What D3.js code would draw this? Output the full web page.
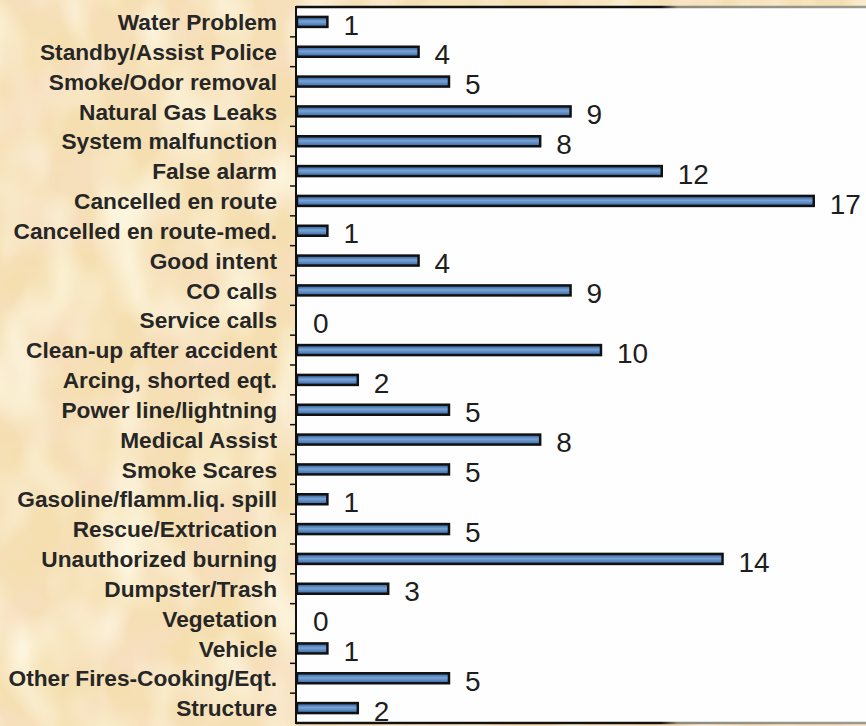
<!DOCTYPE html>
<html>
<head>
<meta charset="utf-8">
<script src="https://cdn.jsdelivr.net/npm/d3@7"></script>
<style>
  html, body { margin: 0; padding: 0; background: #f4dcab; }
  svg { display: block; }
</style>
</head>
<body>
<div class="chart"></div>
<script>
const categories = [
  "Water Problem", "Standby/Assist Police", "Smoke/Odor removal", "Natural Gas Leaks",
  "System malfunction", "False alarm", "Cancelled en route", "Cancelled en route-med.",
  "Good intent", "CO calls", "Service calls", "Clean-up after accident",
  "Arcing, shorted eqt.", "Power line/lightning", "Medical Assist", "Smoke Scares",
  "Gasoline/flamm.liq. spill", "Rescue/Extrication", "Unauthorized burning", "Dumpster/Trash",
  "Vegetation", "Vehicle", "Other Fires-Cooking/Eqt.", "Structure"
];
const counts = [1, 4, 5, 9, 8, 12, 17, 1, 4, 9, 0, 10, 2, 5, 8, 5, 1, 5, 14, 3, 0, 1, 5, 2];

const W = 866, H = 726;
const plot = { left: 296, top: 7, right: 866, bottom: 723 };

const data = categories.map((c, i) => ({ name: c, value: counts[i] }));

const svg = d3.select(".chart").append("svg")
  .attr("width", W)
  .attr("height", H);

const defs = svg.append("defs");

// parchment texture: orange blotches over a pale yellow base
const filt = defs.append("filter").attr("id", "paper")
  .attr("filterUnits", "userSpaceOnUse")
  .attr("x", 0).attr("y", 0).attr("width", W).attr("height", H);
filt.append("feTurbulence").attr("type", "fractalNoise")
  .attr("baseFrequency", "0.012 0.02").attr("numOctaves", 3).attr("seed", 7);
filt.append("feColorMatrix").attr("type", "matrix")
  .attr("values", "0 0 0 0 0.93  0 0 0 0 0.74  0 0 0 0 0.53  2.6 0 0 0 -1.05");

const filt2 = defs.append("filter").attr("id", "paper2")
  .attr("filterUnits", "userSpaceOnUse")
  .attr("x", 0).attr("y", 0).attr("width", W).attr("height", H);
filt2.append("feTurbulence").attr("type", "fractalNoise")
  .attr("baseFrequency", "0.02 0.012").attr("numOctaves", 2).attr("seed", 21);
filt2.append("feColorMatrix").attr("type", "matrix")
  .attr("values", "0 0 0 0 0.98  0 0 0 0 0.92  0 0 0 0 0.74  2.4 0 0 0 -1.0");

const barGrad = defs.append("linearGradient").attr("id", "barFill")
  .attr("x1", 0).attr("y1", 0).attr("x2", 0).attr("y2", 1);
barGrad.append("stop").attr("offset", "0%").attr("stop-color", "#2c5a99");
barGrad.append("stop").attr("offset", "45%").attr("stop-color", "#79a3d4");
barGrad.append("stop").attr("offset", "100%").attr("stop-color", "#3667a8");

const frameGrad = defs.append("linearGradient").attr("id", "frameLine")
  .attr("gradientUnits", "userSpaceOnUse")
  .attr("x1", plot.left).attr("x2", W).attr("y1", 0).attr("y2", 0);
frameGrad.append("stop").attr("offset", "0%").attr("stop-color", "#111");
frameGrad.append("stop").attr("offset", "64%").attr("stop-color", "#111");
frameGrad.append("stop").attr("offset", "67%").attr("stop-color", "#8a8a80");
frameGrad.append("stop").attr("offset", "100%").attr("stop-color", "#9a9a90");

svg.append("rect").attr("width", W).attr("height", H).attr("fill", "#f5dfb1");
svg.append("rect").attr("width", W).attr("height", H).attr("filter", "url(#paper)");
svg.append("rect").attr("width", W).attr("height", H).attr("filter", "url(#paper2)");

// white plot area
svg.append("rect")
  .attr("x", plot.left).attr("y", plot.top)
  .attr("width", plot.right - plot.left).attr("height", plot.bottom - plot.top)
  .attr("fill", "#fefefe");

const x = d3.scaleLinear().domain([0, 18.72]).range([plot.left + 1, plot.right]);
const y = d3.scaleBand().domain(categories).range([plot.top, plot.bottom]).padding(0);

// frame lines top and bottom
svg.append("line").attr("x1", plot.left).attr("x2", W)
  .attr("y1", plot.top).attr("y2", plot.top)
  .attr("stroke", "url(#frameLine)").attr("stroke-width", 2.5);
svg.append("line").attr("x1", plot.left).attr("x2", W)
  .attr("y1", plot.bottom).attr("y2", plot.bottom)
  .attr("stroke", "url(#frameLine)").attr("stroke-width", 2.5);

// category labels
svg.append("g")
  .attr("transform", `translate(${plot.left}, 0)`)
  .call(d3.axisLeft(y).tickSize(0).tickPadding(19))
  .call(g => g.select(".domain").remove())
  .selectAll("text")
  .attr("font-family", "'Liberation Sans', Arial, sans-serif")
  .attr("font-size", 22.7)
  .attr("font-weight", "bold")
  .attr("fill", "#262626")
  .attr("dy", "0.36em");

// boundary ticks
svg.append("g").selectAll("line")
  .data(categories.slice(1))
  .join("line")
  .attr("x1", plot.left - 6).attr("x2", plot.left)
  .attr("y1", d => y(d)).attr("y2", d => y(d))
  .attr("stroke", "#111").attr("stroke-width", 1.5);

// axis line
svg.append("line")
  .attr("x1", plot.left).attr("x2", plot.left)
  .attr("y1", plot.top - 1).attr("y2", plot.bottom + 1)
  .attr("stroke", "#111").attr("stroke-width", 2);

// bars
const barH = 10;
svg.append("g").selectAll("rect")
  .data(data.filter(d => d.value > 0))
  .join("rect")
  .attr("x", x(0))
  .attr("y", d => y(d.name) + y.bandwidth() / 2 - barH / 2)
  .attr("width", d => x(d.value) - x(0))
  .attr("height", barH)
  .attr("fill", "url(#barFill)")
  .attr("stroke", "#111")
  .attr("stroke-width", 2.5);

// value labels
svg.append("g").selectAll("text")
  .data(data)
  .join("text")
  .attr("x", d => x(d.value) + 16)
  .attr("y", d => y(d.name) + y.bandwidth() / 2)
  .attr("dy", "0.45em")
  .attr("font-family", "'Liberation Sans', Arial, sans-serif")
  .attr("font-size", 28)
  .attr("fill", "#1e1e1e")
  .text(d => d.value);
</script>
</body>
</html>
